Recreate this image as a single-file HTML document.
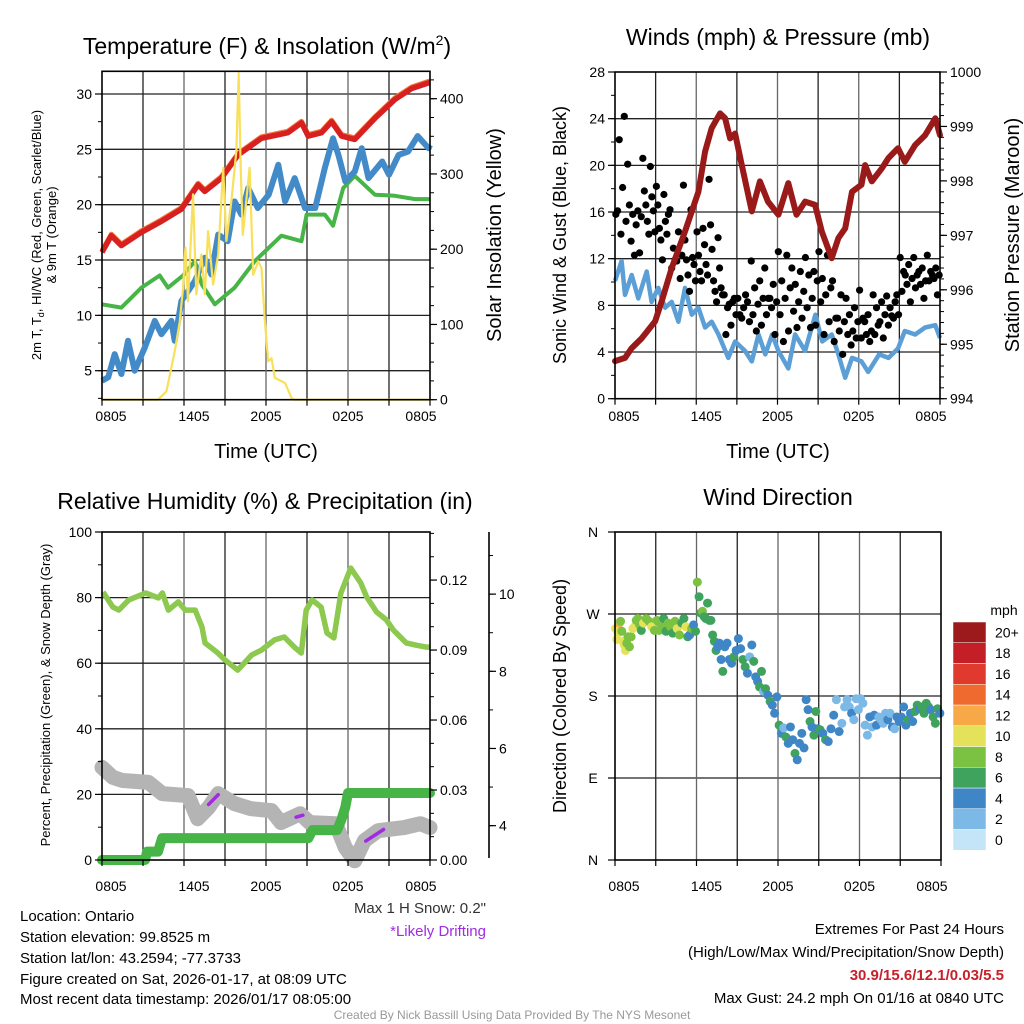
<!DOCTYPE html>
<html><head><meta charset="utf-8">
<style>
html,body{margin:0;padding:0;background:#fff;}
svg{display:block;font-family:"Liberation Sans",Arial,sans-serif;}
</style></head>
<body>
<svg id="chart" width="1024" height="1024" viewBox="0 0 1024 1024" xmlns="http://www.w3.org/2000/svg">
<rect x="0" y="0" width="1024" height="1024" fill="#fff"/>
<g id="grids"></g>
<g id="series"></g>
<g id="axes"></g>
<!-- titles -->
<text x="267" y="54" font-size="23" text-anchor="middle">Temperature (F) &amp; Insolation (W/m<tspan font-size="14" dy="-9">2</tspan><tspan dy="9">)</tspan></text>
<text x="778" y="45" font-size="23" text-anchor="middle">Winds (mph) &amp; Pressure (mb)</text>
<text x="265" y="509" font-size="23" text-anchor="middle">Relative Humidity (%) &amp; Precipitation (in)</text>
<text x="778" y="505" font-size="23" text-anchor="middle">Wind Direction</text>
<!-- axis titles -->
<text transform="translate(41,235) rotate(-90)" font-size="13" text-anchor="middle">2m T, T<tspan font-size="9" dy="3">d</tspan><tspan dy="-3">, HI/WC (Red, Green, Scarlet/Blue)</tspan></text>
<text transform="translate(56,235) rotate(-90)" font-size="13" text-anchor="middle">&amp; 9m T (Orange)</text>
<text transform="translate(501,235) rotate(-90)" font-size="20" text-anchor="middle">Solar Insolation (Yellow)</text>
<text x="266" y="458" font-size="20" text-anchor="middle">Time (UTC)</text>
<text transform="translate(566,235) rotate(-90)" font-size="18" text-anchor="middle">Sonic Wind &amp; Gust (Blue, Black)</text>
<text transform="translate(1019,235) rotate(-90)" font-size="20" text-anchor="middle">Station Pressure (Maroon)</text>
<text x="778" y="458" font-size="20" text-anchor="middle">Time (UTC)</text>
<text transform="translate(50,695) rotate(-90)" font-size="13" text-anchor="middle">Percent, Precipitation (Green), &amp; Snow Depth (Gray)</text>
<text transform="translate(566,696) rotate(-90)" font-size="18" text-anchor="middle">Direction (Colored By Speed)</text>
<!-- notes -->
<text x="486" y="913" font-size="15" text-anchor="end" fill="#333">Max 1 H Snow: 0.2"</text>
<text x="486" y="936" font-size="15" text-anchor="end" fill="#a12be0">*Likely Drifting</text>
<g font-size="15">
<text x="20" y="921">Location: Ontario</text>
<text x="20" y="942">Station elevation: 99.8525 m</text>
<text x="20" y="963">Station lat/lon: 43.2594; -77.3733</text>
<text x="20" y="984">Figure created on Sat, 2026-01-17, at 08:09 UTC</text>
<text x="20" y="1004">Most recent data timestamp: 2026/01/17 08:05:00</text>
</g>
<g font-size="15" text-anchor="end">
<text x="1004" y="934">Extremes For Past 24 Hours</text>
<text x="1004" y="957">(High/Low/Max Wind/Precipitation/Snow Depth)</text>
<text x="1004" y="980" fill="#c8202a" font-weight="bold">30.9/15.6/12.1/0.03/5.5</text>
<text x="1004" y="1003">Max Gust: 24.2 mph On 01/16 at 0840 UTC</text>
</g>
<text x="512" y="1019" font-size="12" text-anchor="middle" fill="#999">Created By Nick Bassill Using Data Provided By The NYS Mesonet</text>
</svg>
<script>
// ---------- DATA ----------
const timeLabels = ["0805","1405","2005","0205","0805"];
// Temperature panel
const redT = [0,0.68,1.42,2.88,4.35,5.81,7.03,7.52,8.74,9.96,11.67,13.6,14.6,15.09,16.07,16.8,17.53,18.5,19.97,21.43,22.66,23.9,24];
const redV = [15.7,17.2,16.3,17.5,18.5,19.6,21.8,21.2,22.4,24.5,26.0,26.5,27.4,26.2,26.5,27.5,26.2,25.9,27.8,29.5,30.5,31.0,31.0];
const greenT = [0,1.42,2.88,4.22,4.83,5.93,6.8,7.3,8.25,9.7,11.18,13.13,14.6,14.97,16.3,16.9,17.65,18.5,19.97,21.43,22.9,24];
const greenV = [11.0,10.7,12.5,13.6,12.5,13.6,14.9,12.8,11.0,12.5,14.9,17.2,16.7,19.1,19.1,18.1,21.5,22.6,20.9,20.8,20.5,20.5];
const blueT = [0,0.45,0.93,1.42,1.9,2.39,3.13,3.86,4.35,5.08,5.32,5.81,6.8,7.52,8.0,8.5,9.2,9.7,10.2,10.7,11.4,12.2,12.9,13.4,14.1,14.85,15.6,16.3,16.9,17.3,17.8,18.5,19.0,19.5,20.5,21.0,21.7,22.4,23.1,23.9,24];
const blueV = [4.1,4.4,6.5,4.7,7.7,5.0,7.1,9.5,8.3,9.5,7.7,11.3,13.1,15.2,13.7,17.3,16.7,20.3,19.1,21.5,19.7,20.9,23.6,20.3,22.4,19.7,19.7,23.3,26.0,24.5,22.1,23.0,25.1,22.4,23.9,22.7,24.5,24.8,26.2,25.1,25.4];
const solarT = [0,4.1,4.71,5.32,5.69,5.93,6.1,6.29,6.66,6.9,7.27,7.52,7.76,8.13,8.5,8.87,9.1,9.47,9.83,10.0,10.15,10.3,10.6,10.8,11.06,11.43,11.67,11.9,12.16,12.4,12.65,13.4,13.87,14.1,24];
const solarV = [0,0,11,64,104,148,202,131,273,140,193,140,224,153,193,308,211,264,330,434,308,219,273,308,166,184,175,109,51,55,29,22,2,0,0];
const tempTicks = [5,10,15,20,25,30];
const solarTicks = [0,100,200,300,400];
// Winds panel
const presT = [0,0.74,1.23,1.97,2.96,3.45,4.19,5.17,6.16,6.65,7.14,7.76,8.13,8.5,8.87,9.36,10.1,10.7,11.3,12.07,12.8,13.4,14.04,14.78,15.27,16.0,16.5,17.0,17.5,18.2,18.47,18.96,19.7,20.2,20.9,21.4,22.17,22.9,23.65,24];
const presV = [994.69,994.75,994.93,995.11,995.42,995.79,996.40,997.07,997.80,998.54,998.97,999.24,999.15,998.78,998.87,998.29,997.44,997.99,997.62,997.38,997.96,997.38,997.62,997.56,997.07,996.58,996.95,997.13,997.80,997.93,998.29,997.99,998.23,998.42,998.60,998.35,998.66,998.84,999.15,998.84];
const windT = [0,0.49,0.74,1.23,1.72,2.34,2.7,3.2,3.7,4.19,4.68,5.17,5.67,6.16,6.65,7.14,7.64,8.37,8.87,9.6,10.1,10.6,11.1,11.6,12.07,12.8,13.3,14.04,14.8,15.3,16.0,16.5,17.0,17.5,18.2,18.7,19.5,20.2,20.9,21.4,22.17,22.9,23.65,24];
const windV = [10.1,11.8,8.9,10.6,8.6,10.9,8.3,9.5,7.8,8.3,6.6,9.5,7.2,7.8,6.1,6.6,5.5,3.5,4.9,4.1,3.2,5.5,3.8,5.5,4.1,2.6,5.5,4.1,7.2,4.9,5.5,3.8,1.8,3.5,3.2,2.3,3.8,3.5,4.3,5.8,5.5,6.1,6.3,5.2];
const gustByHour = [
 [15.8,24.2,22.2,20.1,18.1,16.1,15.2,14.1],
 [16.6,16.1,15.8,15.6,14.9,13.5,12.5,12.3],
 [20.6,19.9,17.8,17.3,16.6,16.1,15.2,14.3,14.1],
 [18.2,17.5,16.6,15.2,14.6,14.1,13.6,15.8,11.9],
 [16.2,14.3,12.9,12.3,11.8,11.2,10.3,11.9],
 [18.3,16.2,13.6,12.1,11.9,11.5,10.6,10.1,9.2],
 [14.3,13.2,12.3,11.5,10.9,10.6,10.1,18.8,14.6],
 [14.9,13.8,12.8,11.2,10.1,9.5,9.2,8.9,8.3],
 [8.9,8.3,7.8,7.2,6.3,5.5,8.6,8.1],
 [8.6,8.3,7.8,7.2,6.6,8.9,6.9],
 [11.8,10.1,9.5,8.6,8.1,7.2,6.3,5.8],
 [11.2,9.8,8.6,8.3,7.8,7.2,5.5,8.6],
 [12.6,12.3,10.1,9.5,8.6,7.2,5.8,4.9],
 [11.2,10.9,9.8,9.2,8.3,7.5,6.9,6.1],
 [12.1,10.9,10.6,10.1,8.6,7.8,6.3,6.1],
 [12.6,12.3,10.3,9.5,8.9,8.3,6.6,5.5],
 [10.1,8.9,6.9,6.6,5.8,4.9,3.8,6.9],
 [8.6,7.8,7.2,6.6,5.8,5.5,5.2,4.6],
 [9.3,7.2,6.9,5.8,5.5,5.2,4.9,6.6],
 [8.9,8.3,7.8,7.2,6.6,5.5,5.2,6.3],
 [8.8,8.3,7.8,7.2,6.9,6.3,8.9,7.1],
 [12.1,11.5,10.9,10.3,9.8,9.2,8.3,10.6],
 [12.1,11.2,10.6,10.1,9.8,9.5,8.6,10.9],
 [12.3,11.2,10.9,10.6,10.3,10.1,8.9,10.6]
];
const mphTicks = [0,4,8,12,16,20,24,28];
const presTicks = [994,995,996,997,998,999,1000];
// Humidity panel
const rhT = [0.07,0.8,1.23,1.96,3.19,4.13,4.42,4.86,5.58,6.09,6.82,7.32,7.54,8.48,8.99,9.93,10.95,11.67,12.62,13.34,14.07,14.58,14.94,15.37,16.03,16.46,16.97,17.48,18.2,18.93,19.36,20.09,20.81,21.32,22.26,22.99,23.71,24];
const rhV = [81.7,77.1,76.2,79.3,81.4,79.9,81.4,76.2,78.7,76.2,76.2,71.0,66.2,63.1,61.0,57.9,62.5,64.0,67.1,68.0,64.9,63.1,76.2,79.3,77.1,69.2,67.7,81.4,89.0,84.5,80.2,75.6,73.2,70.1,66.2,65.5,64.9,64.9];
const precipT = [0,3.15,3.3,4.1,4.4,15.1,15.4,17.2,17.5,17.8,18.0,24];
const precipV = [0,0,0.0036,0.0036,0.0094,0.0094,0.0128,0.0128,0.017,0.0226,0.0287,0.0287];
const snowT = [0,0.8,1.5,3.4,4.4,6.3,7.0,7.8,8.5,9.7,10.9,12.4,13.1,14.5,15.2,17.1,17.8,18.5,19.2,20.2,22.1,23.3,24];
const snowV = [5.51,5.25,5.17,5.12,4.83,4.78,4.18,4.47,4.83,4.57,4.44,4.39,4.08,4.31,4.08,4.05,3.43,3.09,3.61,3.87,3.95,4.05,3.95];
const driftSegs = [[7.8,8.5,4.55,4.8],[14.2,14.7,4.22,4.27],[19.3,20.6,3.6,3.9]];
const rhTicks = [0,20,40,60,80,100];
const precipTicks = [0,0.03,0.06,0.09,0.12];
const snowTicks = [4,6,8,10];
// Wind direction panel
const dirByHour = [
 [254,242,249,260,262,251,240,236,230,238,245],
 [234,245,254,256,263,265,258,252],
 [260,265,262,256,252],
 [263,252,258,265,251,260],
 [256,249,262,254,247,260],
 [265,256,245,247,254,258,251],
 [305,289,271,273,267,265,282,263],
 [263,247,240,230,234,238,220,207],
 [234,238,220,216,223,230],
 [243,232,220,212,205,223],
 [236,218,201,196,190,207,185],
 [188,181,174,170,161,179],
 [148,139,145,135,128,146],
 [132,117,110,128,139,123],
 [176,165,152,146,137,163,144],
 [143,139,132,130,144],
 [159,176,141,150,168],
 [176,168,161,154,177,165],
 [177,172,148,137,157,146],
 [159,148,157,154,150,161],
 [154,161,146,144,157,152],
 [157,168,148,154,161,152],
 [163,170,166,168,161,172],
 [168,165,157,150,166,161]
];
const spdByHour = [
 [10,10,10,12,8,8,10,10,10,8,8],
 [8,8,10,10,8,8,8,6],
 [10,8,8,10,8],
 [8,8,8,6,6,8],
 [8,6,8,10,8,6],
 [6,10,6,4,8,4,6],
 [8,6,6,8,6,6,6,6],
 [6,6,6,6,4,4,4,6],
 [4,4,4,4,6,4],
 [4,4,6,6,4,2],
 [4,6,4,4,6,6,2],
 [6,4,6,4,4,4],
 [6,4,2,6,4,4],
 [4,6,4,4,4,4],
 [4,4,6,4,6,6,4],
 [6,4,6,4,4],
 [4,2,4,2,2],
 [2,2,4,2,2,2],
 [2,2,2,2,4,2],
 [4,4,2,2,2,2],
 [4,2,4,2,4,4],
 [4,4,4,6,4,4],
 [6,6,4,6,6,6],
 [6,4,6,6,6,4]
];
const dirTicks = ["N","E","S","W","N"];
const cbarLabels = ["0","2","4","6","8","10","12","14","16","18","20+"];
const cbarColors = ["#c4e5f7","#7db9e6","#3f86c6","#3fa35e","#7cc242","#e4e25a","#f7a948","#ee6a2e","#e0392d","#c41e26","#9c1a1c"];

// ---------- HELPERS ----------
const NS="http://www.w3.org/2000/svg";
const gGrid=document.getElementById('grids'), gSer=document.getElementById('series'), gAx=document.getElementById('axes');
function mk(tag,attrs,parent){const e=document.createElementNS(NS,tag);for(const k in attrs)e.setAttribute(k,attrs[k]);parent.appendChild(e);return e;}
function lin(d0,d1,p0,p1){return v=>p0+(v-d0)*(p1-p0)/(d1-d0);}
function pathOf(ts,vs,xs,ys){let d='';for(let i=0;i<ts.length;i++){d+=(i?'L':'M')+xs(ts[i]).toFixed(1)+','+ys(vs[i]).toFixed(1);}return d;}

function frame(name,x0,x1,y0,y1,hVals,ys,hColor){
  hVals.forEach(v=>{const y=ys(v);
    const l=mk('line',{x1:x0,x2:x1,y1:y,y2:y,stroke:hColor||'#222','stroke-width':1.3},gGrid);
    
    });
  for(let h=3;h<24;h+=3){const x=x0+(x1-x0)*h/24;
    const l=mk('line',{x1:x,x2:x,y1:y0,y2:y1,stroke:(h%6===0)?'#666':'#222','stroke-width':1.3},gGrid);
    
    }
  const r=mk('rect',{x:x0,y:y0,width:x1-x0,height:y1-y0,fill:'none',stroke:'#000','stroke-width':1.6},gAx);
  
  
  for(let h=0;h<=24;h+=3){const x=x0+(x1-x0)*h/24;
    mk('line',{x1:x,x2:x,y1:y1,y2:y1+6,stroke:'#000','stroke-width':1.2},gAx);}
}
function xLabels(name,x0,x1,y){
  const pos=[0,6,12,18,24];
  timeLabels.forEach((t,i)=>{let x=x0+(x1-x0)*pos[i]/24;if(i===0)x+=9;if(i===4)x-=9;if(i===1)x+=10;
    const e=mk('text',{x:x,y:y,'font-size':14,'text-anchor':'middle'},gAx);e.textContent=t;
    
    });
}
function yAxis(name,ticks,ys,x,side,fmt,minorStep,lo,hi){
  ticks.forEach(v=>{const y=ys(v);
    mk('line',{x1:x,x2:x+(side==='left'?-7:7),y1:y,y2:y,stroke:'#000','stroke-width':1.2},gAx);
    const e=mk('text',{x:x+(side==='left'?-10:10),y:y+5,'font-size':14,'text-anchor':side==='left'?'end':'start'},gAx);
    e.textContent=fmt?fmt(v):String(v);
    
    });
  if(minorStep){for(let v=lo;v<=hi+1e-9;v+=minorStep){const y=ys(v);
    mk('line',{x1:x,x2:x+(side==='left'?-4:4),y1:y,y2:y,stroke:'#000','stroke-width':1},gAx);}}
}

// ---------- PANEL 1: Temperature ----------
(function(){
  const X0=102,X1=430,Y0=71.3,Y1=399.7;
  const xs=lin(0,24,X0,X1), ys=lin(2.38,32.05,Y1,Y0), ss=lin(0,436.4,Y1,Y0);
  frame('temperature',X0,X1,Y0,Y1,tempTicks,ys);
  let p=mk('path',{d:pathOf(redT,redV,xs,v=>ys(v)-1.5),fill:'none',stroke:'#f07a3a','stroke-width':5,'stroke-linejoin':'round'},gSer);
  
  
  p=mk('path',{d:pathOf(redT,redV,xs,ys),fill:'none',stroke:'#d7201f','stroke-width':5.5,'stroke-linejoin':'round'},gSer);
  
  
  p=mk('path',{d:pathOf(greenT,greenV,xs,ys),fill:'none',stroke:'#46b446','stroke-width':4,'stroke-linejoin':'round'},gSer);
  
  
  p=mk('path',{d:pathOf(blueT,blueV,xs,ys),fill:'none',stroke:'#428bc8','stroke-width':6,'stroke-linejoin':'round'},gSer);
  
  
  p=mk('path',{d:pathOf(solarT,solarV,xs,ss),fill:'none',stroke:'#f9e05a','stroke-width':2.2,'stroke-linejoin':'round'},gSer);
  
  
  yAxis('temperature-y',tempTicks,ys,X0,'left',null,2.5,2.5,32);
  yAxis('solar-y',solarTicks,ss,X1,'right',null,25,0,425);
  xLabels('temperature',X0,X1,421);
})();

// ---------- PANEL 2: Winds ----------
(function(){
  const X0=615,X1=940,Y0=72,Y1=398.7;
  const xs=lin(0,24,X0,X1), ys=lin(0,28,Y1,Y0), ps=lin(994,1000,Y1,Y0);
  frame('winds',X0,X1,Y0,Y1,[4,8,12,16,20,24],ys);
  let p=mk('path',{d:pathOf(windT,windV,xs,ys),fill:'none',stroke:'#5b9fd6','stroke-width':4.5,'stroke-linejoin':'round'},gSer);
  
  
  gustByHour.forEach((arr,h)=>{const n=arr.length;arr.forEach((v,i)=>{
    const t=h+(((i*5)%n)+0.5)/n;
    const c=mk('circle',{cx:xs(t),cy:ys(v),r:3.6,fill:'#000'},gSer);
    
    });});
  p=mk('path',{d:pathOf(presT,presV,xs,ps),fill:'none',stroke:'#9a1a1a','stroke-width':6,'stroke-linejoin':'round','stroke-linecap':'round'},gSer);
  
  
  yAxis('wind-y',mphTicks,ys,X0,'left',null,2,0,28);
  yAxis('pressure-y',presTicks,ps,X1,'right',null,0.2,994,1000);
  xLabels('winds',X0,X1,421);
})();

// ---------- PANEL 3: Humidity ----------
(function(){
  const X0=102,X1=430,Y0=532,Y1=860;
  const xs=lin(0,24,X0,X1), ys=lin(0,100,Y1,Y0), pr=lin(0,0.1406,Y1,Y0), sn=lin(3.11,11.61,Y1,Y0);
  frame('humidity',X0,X1,Y0,Y1,[20,40,60,80],ys);
  let p=mk('path',{d:pathOf(snowT,snowV,xs,sn),fill:'none',stroke:'#b4b4b4','stroke-width':15,'stroke-linejoin':'round','stroke-linecap':'round'},gSer);
  
  
  driftSegs.forEach(s=>{const l=mk('line',{x1:xs(s[0]),x2:xs(s[1]),y1:sn(s[2]),y2:sn(s[3]),stroke:'#a12be0','stroke-width':3.5,'stroke-linecap':'round'},gSer);
    
    });
  p=mk('path',{d:pathOf(precipT,precipV,xs,pr),fill:'none',stroke:'#46b446','stroke-width':10,'stroke-linejoin':'round','stroke-linecap':'round'},gSer);
  
  
  p=mk('path',{d:pathOf(rhT,rhV,xs,ys),fill:'none',stroke:'#8dc84f','stroke-width':5.5,'stroke-linejoin':'round'},gSer);
  
  
  yAxis('humidity-y',rhTicks,ys,X0,'left',null,10,0,100);
  yAxis('precip-y',precipTicks,pr,X1,'right',v=>v.toFixed(2),0.01,0,0.14);
  const ax=mk('line',{x1:489,x2:489,y1:532,y2:858,stroke:'#000','stroke-width':1.6},gAx);
  
  
  yAxis('snow-y',snowTicks,sn,489,'right',null,1,4,11);
  xLabels('humidity',X0,X1,891);
})();

// ---------- PANEL 4: Wind direction ----------
(function(){
  const X0=615,X1=941,Y0=532,Y1=860;
  const xs=lin(0,24,X0,X1), ds=lin(0,360,Y1,Y0);
  frame('direction',X0,X1,Y0,Y1,[90,180,270],ds);
  dirByHour.forEach((arr,h)=>{const n=arr.length;arr.forEach((v,i)=>{
    const t=h+(i+0.5)/n;const s=spdByHour[h][i];const bin=Math.min(10,Math.floor(s/2));
    const c=mk('circle',{cx:xs(t),cy:ds(v),r:4.5,fill:cbarColors[bin]},gSer);
    
    });});
  dirTicks.forEach((lab,i)=>{const y=ds(i*90);
    mk('line',{x1:X0,x2:X0-7,y1:y,y2:y,stroke:'#000','stroke-width':1.2},gAx);
    const e=mk('text',{x:X0-22,y:y+5,'font-size':14,'text-anchor':'middle'},gAx);e.textContent=lab;
    
    });
  xLabels('direction',X0,X1,891);
  const cb0=622, cbH=20.75;
  cbarLabels.forEach((lab,i)=>{const y=cb0+(10-i)*cbH;
    const r=mk('rect',{x:953,y:y,width:33,height:cbH,fill:cbarColors[i],stroke:'#fff','stroke-width':0.5},gAx);
    
    
    const e=mk('text',{x:995,y:y+cbH/2+5,'font-size':14},gAx);e.textContent=lab;
    
    });
  const m=mk('text',{x:1004,y:615,'font-size':14,'text-anchor':'middle'},gAx);m.textContent='mph';
  
  
})();
</script>
</body></html>
